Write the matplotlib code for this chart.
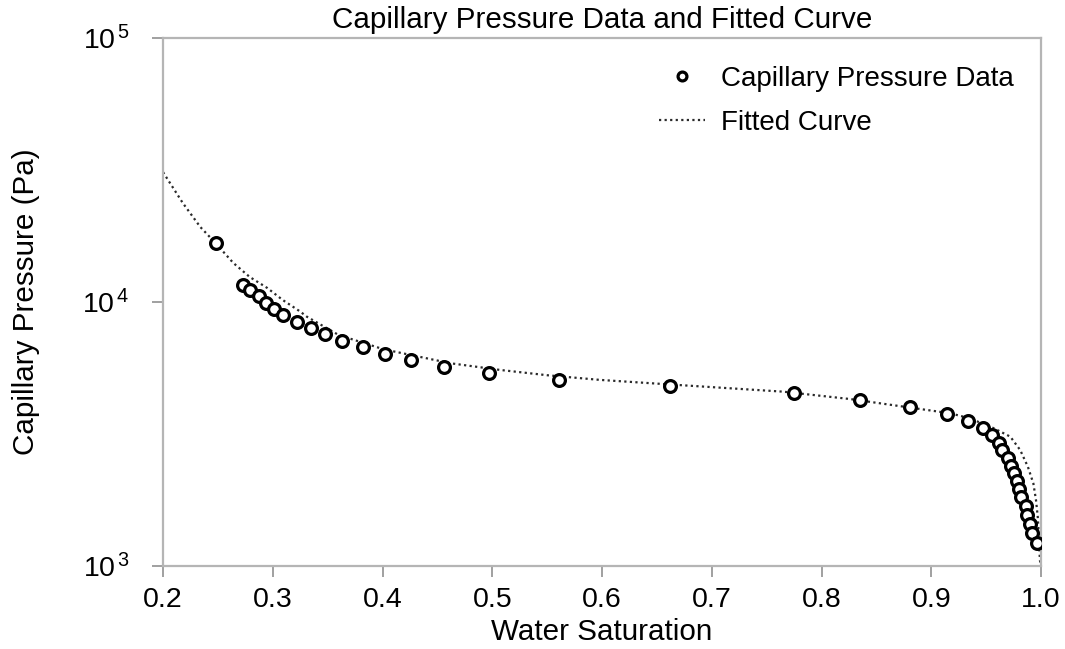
import numpy as np
import matplotlib
matplotlib.use("Agg")
from matplotlib import pyplot as plt
from matplotlib.ticker import FixedLocator, FixedFormatter, NullLocator

plt.rcParams['font.family'] = ['Liberation Sans', 'DejaVu Sans']
plt.rcParams['mathtext.fontset'] = 'custom'
plt.rcParams['mathtext.rm'] = 'Liberation Sans'
plt.rcParams['mathtext.it'] = 'Liberation Sans'

# measured capillary pressure points
sw_data = [0.248, 0.273, 0.279, 0.287, 0.294, 0.301, 0.309, 0.322, 0.335, 0.348,
           0.363, 0.382, 0.402, 0.426, 0.456, 0.497, 0.561, 0.662, 0.775, 0.835,
           0.881, 0.914, 0.933, 0.947, 0.955, 0.962, 0.964, 0.970, 0.973, 0.975,
           0.978, 0.980, 0.982, 0.986, 0.987, 0.990, 0.992, 0.996]
pc_data = [16750, 11600, 11090, 10540, 9910, 9400, 8930, 8400, 7980, 7570,
           7120, 6760, 6360, 6030, 5670, 5380, 5070, 4810, 4520, 4250,
           4000, 3770, 3548, 3324, 3135, 2931, 2750, 2557, 2393, 2244,
           2099, 1953, 1821, 1687, 1560, 1443, 1330, 1219]

# fitted curve
sw_fit = [0.200, 0.218, 0.234, 0.248, 0.264, 0.279, 0.295, 0.309, 0.325, 0.331,
          0.360, 0.401, 0.462, 0.507, 0.550, 0.598, 0.659, 0.765, 0.826, 0.917,
          0.935, 0.957, 0.972, 0.981, 0.988, 0.993, 0.9954, 0.997, 0.9979,
          0.9985, 0.9990, 1.000]
pc_fit = [31040, 23710, 19230, 16690, 14060, 12440, 11300, 10180, 9200, 8800,
          7500, 6620, 5860, 5530, 5280, 5070, 4880, 4575, 4290, 3790,
          3627, 3324, 3090, 2750, 2377, 2055, 1778, 1537, 1330,
          1150, 1050, 1000]

y_ticks = [1e3, 1e4, 1e5]
y_labels = ['10$^{\\,3}$', '10$^{\\,4}$', '10$^{\\,5}$']
x_ticks = [0.2, 0.3, 0.4, 0.5, 0.6, 0.7, 0.8, 0.9, 1.0]

fig = plt.figure(figsize=(10.65, 6.49), dpi=100)
ax = fig.add_axes([0.1531, 0.1279, 0.8244, 0.8135])

ax.plot(sw_fit, pc_fit, linestyle=(0, (1, 1.5)), color='#2a2a2a', lw=1.6,
        label='Fitted Curve', zorder=2)
ax.plot(sw_data, pc_data, linestyle='none', marker='o', ms=8.5, mfc='white',
        mec='black', mew=2.3, label='Capillary Pressure Data', zorder=3)

ax.set_yscale('log')
ax.set_xlim(0.2, 1.0)
ax.set_ylim(1e3, 1e5)
ax.yaxis.set_major_locator(FixedLocator(y_ticks))
ax.yaxis.set_major_formatter(FixedFormatter(y_labels))
ax.yaxis.set_minor_locator(NullLocator())
ax.set_xticks(x_ticks)
ax.set_xticklabels(['%.1f' % v for v in x_ticks])

for s in ax.spines.values():
    s.set_color('#b5b5b5')
    s.set_linewidth(1.6)
ax.tick_params(direction='out', length=8, width=1.2, color='#909090',
               labelsize=20.5)
ax.tick_params(axis='x', pad=7)
ax.tick_params(axis='y', pad=16)

ax.set_xlabel('Water Saturation', fontsize=21.3)
ax.xaxis.set_label_coords(0.5, -0.098)
ax.set_ylabel('Capillary Pressure (Pa)', fontsize=21.3)
ax.yaxis.set_label_coords(-0.140, 0.5)
ax.set_title('Capillary Pressure Data and Fitted Curve', fontsize=21.3, pad=7)

h, l = ax.get_legend_handles_labels()
ax.legend(h[::-1], l[::-1], loc='upper right', frameon=False, fontsize=20,
          handlelength=1.65, handletextpad=0.55, markerscale=0.75,
          borderaxespad=0.6, labelspacing=0.65)

fig.savefig('out.png', dpi=100, facecolor='white')
